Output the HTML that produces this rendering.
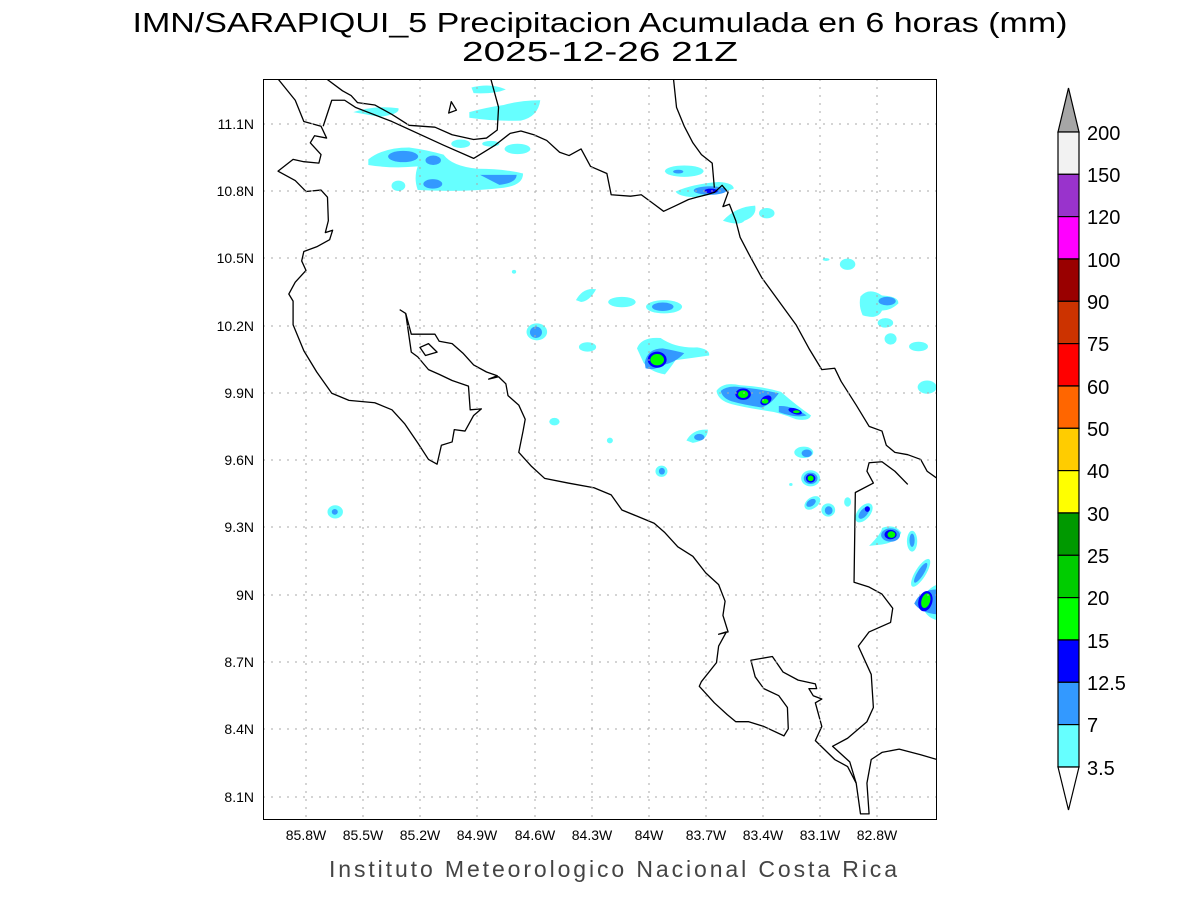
<!DOCTYPE html>
<html><head><meta charset="utf-8"><style>
html,body{margin:0;padding:0;background:#fff}
svg{display:block}
text{font-family:"Liberation Sans",sans-serif}
</style></head><body>
<svg width="1200" height="900" viewBox="0 0 1200 900" xmlns="http://www.w3.org/2000/svg">
<rect width="1200" height="900" fill="#fff"/>
<text x="600" y="32" font-size="28" text-anchor="middle" textLength="935" lengthAdjust="spacingAndGlyphs">IMN/SARAPIQUI_5 Precipitacion Acumulada en 6 horas (mm)</text>
<text x="600" y="61" font-size="28" text-anchor="middle" textLength="276" lengthAdjust="spacingAndGlyphs">2025-12-26 21Z</text>

<svg x="263" y="79" width="674" height="741" viewBox="0 0 1568 1568" preserveAspectRatio="none">
<g fill="#66ffff">
<path d="M485,18 Q530,8 565,22 Q540,32 490,30Z"/>
<path d="M480,70 Q520,60 560,55 Q600,45 645,45 Q640,80 600,88 Q540,90 480,82Z"/>
<path d="M210,70 Q260,55 315,62 Q320,75 270,80Z"/>
<ellipse cx="460" cy="137" rx="22" ry="9"/>
<ellipse cx="530" cy="137" rx="20" ry="6"/>
<ellipse cx="592" cy="148" rx="30" ry="11"/>
<path d="M245,170 Q280,145 340,145 Q380,150 420,160 Q440,185 500,190 Q560,190 605,200 Q605,225 560,230 Q470,240 360,235 Q350,210 360,185 Q300,190 245,182Z"/>
<ellipse cx="315" cy="226" rx="16" ry="11"/>
<ellipse cx="980" cy="195" rx="45" ry="12"/>
<path d="M960,238 Q1000,222 1060,218 Q1095,220 1095,232 Q1060,245 1000,250 Q965,248 960,238Z"/>
<path d="M1070,300 Q1100,270 1145,268 Q1150,290 1120,300 Q1110,312 1070,300Z"/>
<ellipse cx="1172" cy="284" rx="18" ry="11"/>
<ellipse cx="1360" cy="392" rx="18" ry="12"/>
<path d="M1390,460 Q1410,440 1440,458 Q1480,460 1478,475 Q1460,490 1440,490 Q1430,510 1395,500 Q1385,480 1390,460Z"/>
<ellipse cx="1448" cy="516" rx="18" ry="10"/>
<ellipse cx="1460" cy="550" rx="14" ry="12"/>
<ellipse cx="1525" cy="566" rx="22" ry="10"/>
<ellipse cx="1545" cy="652" rx="22" ry="14"/>
<path d="M728,468 Q745,440 775,445 Q760,470 740,472Z"/>
<ellipse cx="835" cy="472" rx="32" ry="11"/>
<ellipse cx="933" cy="482" rx="42" ry="14"/>
<ellipse cx="637" cy="535" rx="24" ry="18"/>
<ellipse cx="755" cy="567" rx="20" ry="10"/>
<path d="M870,570 Q880,545 925,548 Q960,570 1010,568 Q1040,572 1038,585 Q1000,590 960,595 Q945,615 935,625 Q900,620 885,600Z"/>
<path d="M1055,660 Q1070,640 1110,648 Q1160,650 1205,662 Q1240,690 1275,712 Q1270,725 1240,720 Q1200,705 1170,702 Q1120,695 1090,688 Q1058,680 1055,660Z"/>
<ellipse cx="678" cy="725" rx="12" ry="8"/>
<path d="M985,765 Q1000,740 1035,742 Q1035,765 1000,770Z"/>
<ellipse cx="807" cy="765" rx="7" ry="6"/>
<ellipse cx="1258" cy="790" rx="22" ry="12"/>
<ellipse cx="927" cy="830" rx="14" ry="12"/>
<ellipse cx="1274" cy="845" rx="22" ry="17"/>
<ellipse cx="1278" cy="897" rx="20" ry="12" transform="rotate(-30 1278 897)"/>
<ellipse cx="1315" cy="912" rx="16" ry="14"/>
<ellipse cx="1360" cy="895" rx="8" ry="10"/>
<ellipse cx="1398" cy="918" rx="25" ry="14" transform="rotate(-45 1398 918)"/>
<path d="M1410,988 Q1440,960 1440,950 Q1470,940 1485,960 Q1475,980 1440,985Z"/>
<ellipse cx="1510" cy="978" rx="12" ry="22"/>
<ellipse cx="1530" cy="1045" rx="12" ry="35" transform="rotate(35 1530 1045)"/>
<path d="M1532,1110 Q1540,1080 1568,1070 L1568,1145 Q1540,1140 1532,1110Z"/>
<ellipse cx="168" cy="916" rx="18" ry="14"/>
<ellipse cx="584" cy="408" rx="5" ry="4"/>
<ellipse cx="1228" cy="858" rx="4" ry="3"/>
<ellipse cx="1310" cy="382" rx="8" ry="3"/>
</g>
<g fill="#3399ff">
<ellipse cx="326" cy="164" rx="35" ry="12"/>
<ellipse cx="396" cy="172" rx="18" ry="10"/>
<ellipse cx="395" cy="222" rx="22" ry="10"/>
<path d="M505,203 L590,203 Q590,220 550,224Z"/>
<ellipse cx="966" cy="196" rx="12" ry="4"/>
<ellipse cx="1040" cy="236" rx="38" ry="9"/>
<ellipse cx="1452" cy="470" rx="20" ry="9"/>
<ellipse cx="930" cy="482" rx="25" ry="9"/>
<ellipse cx="635" cy="536" rx="14" ry="12"/>
<path d="M888,600 Q895,570 930,570 Q960,575 980,580 Q960,600 930,605 Q910,618 890,612Z"/>
<path d="M1065,660 Q1080,648 1110,652 Q1150,655 1200,665 Q1180,690 1160,695 Q1120,690 1090,682 Q1068,675 1065,660Z"/>
<path d="M1200,692 Q1230,690 1265,712 Q1240,718 1200,705Z"/>
<ellipse cx="1015" cy="758" rx="12" ry="7"/>
<ellipse cx="1265" cy="792" rx="12" ry="8"/>
<ellipse cx="928" cy="830" rx="7" ry="7"/>
<ellipse cx="1274" cy="845" rx="16" ry="12"/>
<ellipse cx="1275" cy="897" rx="12" ry="7" transform="rotate(-30 1275 897)"/>
<ellipse cx="1316" cy="913" rx="9" ry="9"/>
<ellipse cx="1398" cy="918" rx="16" ry="8" transform="rotate(-45 1398 918)"/>
<ellipse cx="1460" cy="965" rx="22" ry="14"/>
<ellipse cx="1510" cy="976" rx="6" ry="14"/>
<ellipse cx="1530" cy="1045" rx="7" ry="25" transform="rotate(35 1530 1045)"/>
<path d="M1515,1110 Q1530,1080 1568,1080 L1568,1133 Q1530,1130 1515,1110Z"/>
<ellipse cx="167" cy="916" rx="7" ry="6"/>
</g>
<g fill="#0000ff">
<ellipse cx="1042" cy="237" rx="16" ry="5"/>
<ellipse cx="917" cy="594" rx="22" ry="17"/>
<ellipse cx="1117" cy="667" rx="18" ry="12"/>
<ellipse cx="1170" cy="680" rx="14" ry="9" transform="rotate(-30 1170 680)"/>
<ellipse cx="1238" cy="703" rx="16" ry="6" transform="rotate(15 1238 703)"/>
<ellipse cx="1274" cy="845" rx="11" ry="9"/>
<ellipse cx="1406" cy="910" rx="6" ry="6"/>
<ellipse cx="1460" cy="964" rx="14" ry="10"/>
<ellipse cx="1541" cy="1105" rx="16" ry="22" transform="rotate(20 1541 1105)"/>
</g>
<g fill="#00ff00">
<ellipse cx="917" cy="594" rx="16" ry="12"/>
<ellipse cx="1117" cy="667" rx="12" ry="8"/>
<ellipse cx="1168" cy="682" rx="8" ry="5"/>
<ellipse cx="1241" cy="704" rx="8" ry="3"/>
<ellipse cx="1274" cy="845" rx="7" ry="6"/>
<ellipse cx="1462" cy="964" rx="9" ry="7"/>
<ellipse cx="1542" cy="1104" rx="10" ry="16" transform="rotate(20 1542 1104)"/>
</g>
<g fill="none" stroke="#000" stroke-width="1.3" vector-effect="non-scaling-stroke" stroke-linejoin="round">
<polyline vector-effect="non-scaling-stroke" points="35,0 75,45 95,90 135,100 148,125 120,120 110,135 135,160 130,178 95,175 70,170 35,195 75,215 100,238 135,235 150,250 152,300 145,325 162,320 155,340 125,355 95,365 90,385 100,405 75,430 60,455 70,470 70,520 95,575 125,620 160,665 200,680 260,685 300,700 330,730 360,770 385,805 405,815 415,775 440,768 445,742 470,745 490,712 508,698 482,700 478,650 440,638 410,625 385,615 360,588 345,578 332,496 318,488"/>
<polyline vector-effect="non-scaling-stroke" points="332,496 345,540 400,540 410,555 440,560 465,580 490,605 520,620 545,628 525,635 548,630 565,645 570,670 595,690 610,720 605,745 595,790 625,820 655,845 710,855 770,865 810,880 835,912 870,925 910,940 935,960 965,990 1000,1010 1030,1045 1060,1070 1075,1105 1070,1135 1082,1170 1060,1175 1078,1170 1060,1200 1055,1235 1020,1275 1015,1285 1050,1320 1080,1345 1100,1360 1130,1360 1165,1370 1212,1390 1222,1375 1220,1330 1200,1305 1165,1290 1145,1265 1135,1230 1185,1222 1210,1255 1245,1272 1285,1280 1288,1290 1270,1290 1280,1305 1300,1312 1285,1320 1300,1370 1285,1400 1330,1440 1360,1455 1380,1490 1390,1555 1410,1555 1405,1490 1415,1440 1440,1425 1480,1418 1530,1430 1568,1440"/>
<polygon vector-effect="non-scaling-stroke" points="365,568 385,560 405,578 378,585"/>
<polygon vector-effect="non-scaling-stroke" points="432,72 438,48 450,66"/>
<polyline vector-effect="non-scaling-stroke" points="148,0 185,25 205,35 220,50 260,55 300,75 340,98 400,102 440,118 490,128 520,125 545,108 548,60 530,0"/>
<polyline vector-effect="non-scaling-stroke" points="140,100 160,45 190,45 215,60 300,90 420,140 490,168 540,140 575,115 600,110 630,118 660,130 690,155 712,162 740,148 762,185 800,200 810,245 855,248 880,245 910,265 932,280 960,268 990,255 1010,250 1032,245 1050,240 1068,225 1082,240 1070,270 1085,265 1100,300 1110,335 1130,370 1160,420 1200,470 1240,520 1270,570 1300,615 1330,612 1345,640 1380,690 1410,735 1440,745 1450,775 1470,790 1500,795 1530,805 1545,830 1568,845"/>
<polyline vector-effect="non-scaling-stroke" points="955,0 962,60 980,100 1000,135 1020,160 1045,178 1050,230"/>
<polyline vector-effect="non-scaling-stroke" points="1500,858 1470,830 1440,810 1410,812 1405,830 1420,855 1378,875 1375,1065 1410,1075 1440,1090 1465,1120 1460,1150 1410,1170 1385,1200 1415,1260 1420,1330 1405,1360 1360,1395 1325,1412 1365,1445 1380,1490"/>
</g>
</svg>

<g stroke="#aaa" stroke-width="1" stroke-dasharray="2,6">
<line x1="306" y1="79" x2="306" y2="820"/><line x1="363" y1="79" x2="363" y2="820"/><line x1="420" y1="79" x2="420" y2="820"/><line x1="477" y1="79" x2="477" y2="820"/><line x1="535" y1="79" x2="535" y2="820"/><line x1="592" y1="79" x2="592" y2="820"/><line x1="649" y1="79" x2="649" y2="820"/><line x1="706" y1="79" x2="706" y2="820"/><line x1="763" y1="79" x2="763" y2="820"/><line x1="820" y1="79" x2="820" y2="820"/><line x1="877" y1="79" x2="877" y2="820"/>
<line x1="263" y1="124" x2="937" y2="124"/><line x1="263" y1="191" x2="937" y2="191"/><line x1="263" y1="258" x2="937" y2="258"/><line x1="263" y1="326" x2="937" y2="326"/><line x1="263" y1="393" x2="937" y2="393"/><line x1="263" y1="460" x2="937" y2="460"/><line x1="263" y1="527" x2="937" y2="527"/><line x1="263" y1="595" x2="937" y2="595"/><line x1="263" y1="662" x2="937" y2="662"/><line x1="263" y1="729" x2="937" y2="729"/><line x1="263" y1="797" x2="937" y2="797"/>
</g>
<rect x="263.5" y="79.5" width="673" height="740" fill="none" stroke="#000" stroke-width="1"/>

<g font-size="14" text-anchor="end">
<text x="254" y="129">11.1N</text><text x="254" y="196">10.8N</text><text x="254" y="263">10.5N</text><text x="254" y="331">10.2N</text><text x="254" y="398">9.9N</text><text x="254" y="465">9.6N</text><text x="254" y="532">9.3N</text><text x="254" y="600">9N</text><text x="254" y="667">8.7N</text><text x="254" y="734">8.4N</text><text x="254" y="802">8.1N</text>
</g>
<g font-size="14" text-anchor="middle">
<text x="306" y="840">85.8W</text><text x="363" y="840">85.5W</text><text x="420" y="840">85.2W</text><text x="477" y="840">84.9W</text><text x="535" y="840">84.6W</text><text x="592" y="840">84.3W</text><text x="649" y="840">84W</text><text x="706" y="840">83.7W</text><text x="763" y="840">83.4W</text><text x="820" y="840">83.1W</text><text x="877" y="840">82.8W</text>
</g>
<text x="613" y="877" font-size="23" fill="#444" text-anchor="middle" textLength="568" lengthAdjust="spacing">Instituto Meteorologico Nacional Costa Rica</text>

<g stroke="#000" stroke-width="1.2">
<polygon points="1058,132 1068.5,88 1079,132" fill="#a6a6a6"/>
<rect x="1058" y="132" width="21" height="42.3" fill="#f2f2f2"/>
<rect x="1058" y="174.3" width="21" height="42.3" fill="#9933cc"/>
<rect x="1058" y="216.6" width="21" height="42.3" fill="#ff00ff"/>
<rect x="1058" y="259" width="21" height="42.3" fill="#990000"/>
<rect x="1058" y="301.3" width="21" height="42.3" fill="#cc3300"/>
<rect x="1058" y="343.6" width="21" height="42.3" fill="#ff0000"/>
<rect x="1058" y="386" width="21" height="42.3" fill="#ff6600"/>
<rect x="1058" y="428.3" width="21" height="42.3" fill="#ffcc00"/>
<rect x="1058" y="470.6" width="21" height="42.3" fill="#ffff00"/>
<rect x="1058" y="513" width="21" height="42.3" fill="#009900"/>
<rect x="1058" y="555.3" width="21" height="42.3" fill="#00cc00"/>
<rect x="1058" y="597.6" width="21" height="42.3" fill="#00ff00"/>
<rect x="1058" y="640" width="21" height="42.3" fill="#0000ff"/>
<rect x="1058" y="682.3" width="21" height="42.3" fill="#3399ff"/>
<rect x="1058" y="724.6" width="21" height="42.4" fill="#66ffff"/>
<polygon points="1058,767 1068.5,810 1079,767" fill="#fff"/>
</g>
<g font-size="20">
<text x="1087" y="140">200</text><text x="1087" y="182">150</text><text x="1087" y="224">120</text><text x="1087" y="267">100</text><text x="1087" y="309">90</text><text x="1087" y="351">75</text><text x="1087" y="394">60</text><text x="1087" y="436">50</text><text x="1087" y="478">40</text><text x="1087" y="521">30</text><text x="1087" y="563">25</text><text x="1087" y="605">20</text><text x="1087" y="648">15</text><text x="1087" y="690">12.5</text><text x="1087" y="732">7</text><text x="1087" y="775">3.5</text>
</g>
</svg>
</body></html>
